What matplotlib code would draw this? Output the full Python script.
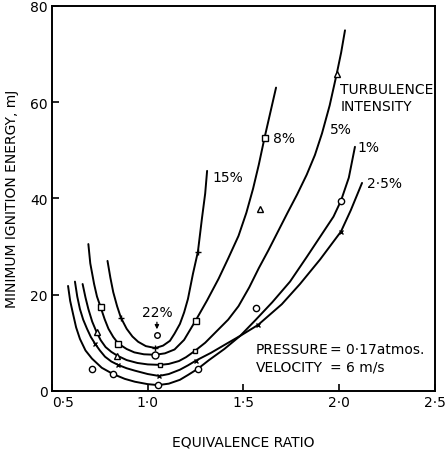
import matplotlib
matplotlib.use("Agg")
from matplotlib import pyplot as plt

# Minimum ignition energy vs equivalence ratio, one curve per turbulence intensity
phi_15 = [0.79, 0.805, 0.82, 0.84, 0.86, 0.89, 0.92, 0.95, 0.99, 1.04, 1.08, 1.116, 1.14,
          1.168, 1.19, 1.21, 1.236, 1.262, 1.283, 1.30, 1.31]
mie_15 = [27.0, 23.5, 20.5, 17.6, 15.2, 12.9, 11.3, 10.2, 9.3, 8.9, 9.4, 10.4, 11.9,
          13.9, 16.3, 19.1, 24.3, 28.9, 35.8, 41.0, 45.7]

phi_8 = [0.69, 0.70, 0.72, 0.735, 0.754, 0.775, 0.795, 0.82, 0.847, 0.89, 0.93, 0.98, 1.04,
         1.09, 1.14, 1.19, 1.25, 1.31, 1.37, 1.42, 1.474, 1.515, 1.55, 1.58, 1.61, 1.64, 1.67]
mie_8 = [30.5, 26.5, 22.2, 19.6, 17.4, 14.9, 12.9, 11.2, 9.8, 8.7, 8.0, 7.6, 7.5,
         7.8, 8.6, 10.6, 14.6, 18.8, 23.3, 27.5, 32.2, 37.0, 42.0, 47.0, 52.6, 57.8, 63.0]

phi_5 = [0.66, 0.675, 0.69, 0.71, 0.733, 0.755, 0.78, 0.81, 0.842, 0.89, 0.946, 1.00, 1.065,
         1.11, 1.163, 1.20, 1.246, 1.30, 1.36, 1.42, 1.474, 1.53, 1.58, 1.63, 1.68, 1.73,
         1.78, 1.83, 1.873, 1.91, 1.95, 1.987, 2.01, 2.03]
mie_5 = [22.2, 19.4, 17.0, 14.4, 12.2, 10.5, 9.1, 8.1, 7.3, 6.4, 5.8, 5.5, 5.4,
         5.6, 6.2, 7.0, 8.3, 10.0, 12.4, 14.8, 17.6, 21.5, 25.5, 29.2, 33.1, 37.0,
         40.8, 44.9, 49.0, 53.5, 59.3, 65.9, 70.3, 74.9]

phi_25 = [0.62, 0.632, 0.646, 0.663, 0.683, 0.703, 0.725, 0.75, 0.777, 0.81, 0.845, 0.89,
          0.933, 1.00, 1.059, 1.11, 1.168, 1.21, 1.252, 1.33, 1.403, 1.49, 1.576, 1.70,
          1.795, 1.90, 2.009, 2.06, 2.119]
mie_25 = [22.7, 19.6, 17.0, 14.8, 12.9, 11.2, 9.8, 8.4, 7.1, 6.1, 5.4, 4.7,
          4.2, 3.5, 3.1, 3.5, 4.4, 5.3, 6.3, 7.9, 9.6, 11.6, 13.7, 18.0,
          22.2, 27.3, 33.1, 37.5, 43.2]

phi_1 = [0.584, 0.595, 0.61, 0.626, 0.646, 0.675, 0.709, 0.76, 0.819, 0.88, 0.933, 1.00,
         1.054, 1.11, 1.168, 1.21, 1.262, 1.32, 1.40, 1.482, 1.56, 1.65, 1.743, 1.83,
         1.92, 1.97, 2.009, 2.05, 2.082]
mie_1 = [21.8, 18.7, 16.0, 13.2, 10.8, 8.4, 6.7, 4.8, 3.5, 2.5, 1.9, 1.4,
         1.2, 1.5, 2.3, 3.3, 4.6, 6.4, 8.7, 11.4, 14.6, 18.4, 22.7, 27.8,
         33.2, 36.2, 39.5, 44.3, 50.7]

# measured points
pts_15_x = [0.86, 1.04, 1.262]
pts_15_y = [15.2, 8.9, 28.9]
pts_8_sq_x = [0.754, 0.847, 1.25, 1.61]
pts_8_sq_y = [17.4, 9.8, 14.6, 52.6]
pts_8_o_x = [1.04]
pts_8_o_y = [7.5]
pts_5_tri_x = [0.733, 0.842, 1.586, 1.987]
pts_5_tri_y = [12.2, 7.3, 37.8, 65.9]
pts_5_sq_x = [1.065, 1.246]
pts_5_sq_y = [5.4, 8.3]
pts_25_x = [0.725, 0.845, 1.059, 1.252, 1.576, 2.009]
pts_25_y = [9.8, 5.4, 3.1, 6.3, 13.7, 33.1]
pts_1_x = [0.709, 0.819, 1.054, 1.262, 1.565, 2.009]
pts_1_y = [4.6, 3.5, 1.2, 4.6, 17.3, 39.5]
pt_22 = (1.048, 11.6)

xticks = [0.5, 1.0, 1.5, 2.0, 2.5]
xtick_labels = ["0·5", "1·0", "1·5", "2·0", "2·5"]
yticks = [0, 20, 40, 60, 80]

plt.rcParams["font.family"] = "DejaVu Sans"

fig = plt.figure(figsize=(4.48, 4.52), dpi=100)
ax = fig.add_axes([0.116, 0.133, 0.855, 0.852])

line_kw = dict(color="black", lw=1.4, solid_joinstyle="round", solid_capstyle="round")
for px, py in [(phi_15, mie_15), (phi_8, mie_8), (phi_5, mie_5), (phi_25, mie_25), (phi_1, mie_1)]:
    ax.plot(px, py, **line_kw)

mk = dict(color="black", ls="none", mfc="white", mec="black", mew=1.0, zorder=3)
ax.plot(pts_15_x, pts_15_y, marker="+", ms=5, **mk)
ax.plot(pts_8_sq_x, pts_8_sq_y, marker="s", ms=4.5, **mk)
ax.plot(pts_8_o_x, pts_8_o_y, marker="o", ms=5, **mk)
ax.plot(pts_5_tri_x, pts_5_tri_y, marker="^", ms=4, **mk)
ax.plot(pts_5_sq_x, pts_5_sq_y, marker="s", ms=3.5, **mk)
ax.plot(pts_25_x, pts_25_y, marker="x", ms=3.5, **mk)
ax.plot(pts_1_x, pts_1_y, marker="o", ms=4.5, **mk)
ax.plot([pt_22[0]], [pt_22[1]], marker="o", ms=4, **mk)

fs = 10
ax.annotate("22%", xy=(pt_22[0], pt_22[1] + 1.2), xytext=(pt_22[0], 16.3),
            ha="center", va="center", fontsize=fs,
            arrowprops=dict(arrowstyle="-|>", color="black", lw=0.9,
                            mutation_scale=6, shrinkA=6, shrinkB=0))

ax.text(1.336, 44.5, "15%", fontsize=fs, va="center", ha="left")
ax.text(1.654, 52.6, "8%", fontsize=fs, va="center", ha="left")
ax.text(1.952, 54.3, "5%", fontsize=fs, va="center", ha="left")
ax.text(2.093, 50.7, "1%", fontsize=fs, va="center", ha="left")
ax.text(2.145, 43.2, "2·5%", fontsize=fs, va="center", ha="left")
ax.text(2.005, 62.8, "TURBULENCE", fontsize=fs, va="center", ha="left")
ax.text(2.005, 59.2, "INTENSITY", fontsize=fs, va="center", ha="left")
ax.text(1.565, 8.6, "PRESSURE", fontsize=fs, va="center", ha="left")
ax.text(1.95, 8.6, "= 0·17atmos.", fontsize=fs, va="center", ha="left")
ax.text(1.565, 5.0, "VELOCITY", fontsize=fs, va="center", ha="left")
ax.text(1.95, 5.0, "= 6 m/s", fontsize=fs, va="center", ha="left")

ax.set_xlim(0.5, 2.5)
ax.set_ylim(0, 80)
ax.set_xticks(xticks)
ax.set_xticklabels(xtick_labels)
ax.get_xticklabels()[0].set_horizontalalignment("left")
ax.set_yticks(yticks)
ax.tick_params(direction="in", length=5, width=1.2, labelsize=fs, pad=3)
for s in ax.spines.values():
    s.set_linewidth(1.4)

ax.set_xlabel("EQUIVALENCE RATIO", fontsize=fs, labelpad=18)
ax.set_ylabel("MINIMUM IGNITION ENERGY, mJ", fontsize=fs, labelpad=8)

fig.savefig("out.png", dpi=100)
